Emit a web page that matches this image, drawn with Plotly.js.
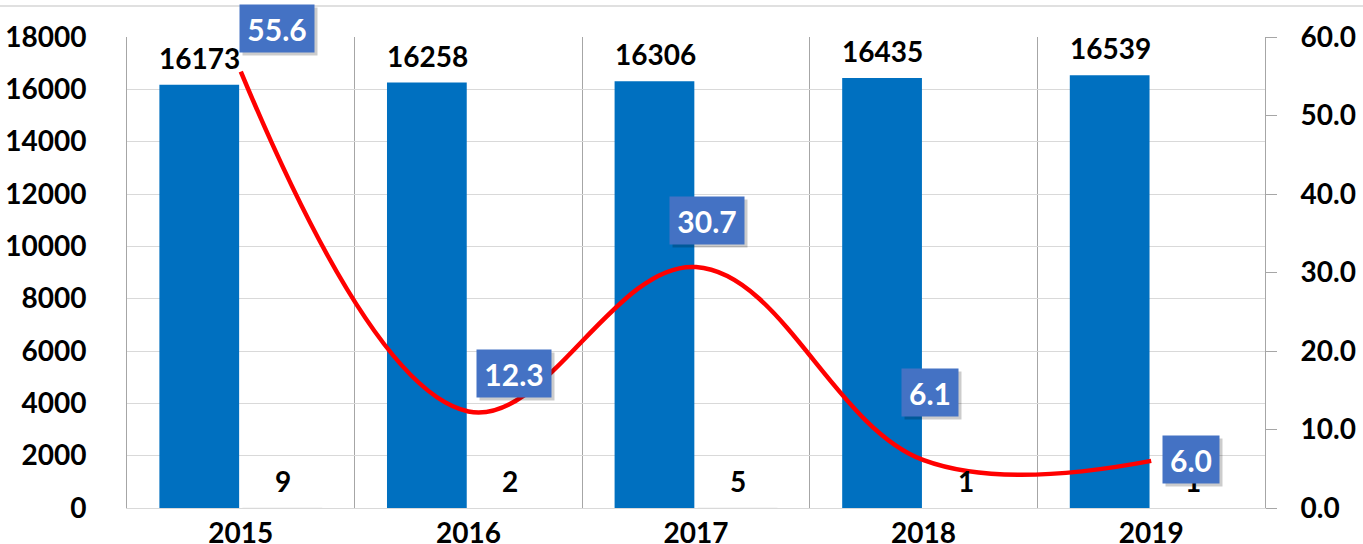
<!DOCTYPE html>
<html>
<head>
<meta charset="utf-8">
<script src="https://cdn.plot.ly/plotly-3.0.1.min.js"></script>
<style>html,body{margin:0;padding:0;background:#fff;}#chart{width:1363px;height:544px;}</style>
</head>
<body>
<div id="chart"></div>
<script>
var years = ['2015', '2016', '2017', '2018', '2019'];
var totals = [16173, 16258, 16306, 16435, 16539];
var cases = [9, 2, 5, 1, 1];
var rates = [55.6, 12.3, 30.7, 6.1, 6.0];
var leftTicks = [0, 2000, 4000, 6000, 8000, 10000, 12000, 14000, 16000, 18000];
var rightTicks = [0, 10, 20, 30, 40, 50, 60];

var FONT = 'Lato, "Open Sans", sans-serif';
var rateLabelShift = [[36, 43], [46, 38], [11, 47], [6, 68], [40, 1]];

var ctx = document.createElement('canvas').getContext('2d');
ctx.font = 'bold 30px Lato, "Open Sans", sans-serif';
function textWidth(t) { return Math.ceil(ctx.measureText(t).width) + 2; }

var traces = [
  {type: 'bar', x: years, y: totals, name: 'total', marker: {color: '#0070C0'}, yaxis: 'y', hoverinfo: 'skip'},
  {type: 'bar', x: years, y: cases, name: 'cases', marker: {color: '#d9d9d9'}, yaxis: 'y', hoverinfo: 'skip'},
  {type: 'scatter', mode: 'lines', x: years, y: rates, yaxis: 'y2', name: 'rate',
   line: {color: '#FF0000', width: 4.5, shape: 'spline', smoothing: 1.1}, hoverinfo: 'skip'}
];

// annotations on a category axis are placed by category index
var annotations = [];
years.forEach(function (yr, i) {
  annotations.push({x: i, y: totals[i], xref: 'x', yref: 'y', text: String(totals[i]), showarrow: false,
    xshift: -41, yshift: 8, yanchor: 'bottom', font: {family: FONT, size: 28, color: '#000', weight: 'bold'}});
  annotations.push({x: i, y: cases[i], xref: 'x', yref: 'y', text: String(cases[i]), showarrow: false,
    xshift: 42, yshift: 8, yanchor: 'bottom', font: {family: FONT, size: 28, color: '#000', weight: 'bold'}});
});
years.forEach(function (yr, i) {
  var s = rateLabelShift[i];
  var txt = rates[i].toFixed(1);
  var w = textWidth(txt);
  annotations.push({x: i, y: rates[i], xref: 'x', yref: 'y2', text: ' ', showarrow: false,
    xshift: s[0] + 3, yshift: s[1] - 3, borderpad: 6, width: w, height: 35,
    bgcolor: 'rgba(0,0,0,0.2)', font: {family: FONT, size: 30, color: '#fff'}});
  annotations.push({x: i, y: rates[i], xref: 'x', yref: 'y2', text: txt, showarrow: false,
    xshift: s[0], yshift: s[1], borderpad: 6, width: w, height: 35,
    bgcolor: '#4472C4', font: {family: FONT, size: 30, color: '#fff', weight: 'bold'}});
});

var layout = {
  width: 1363, height: 544,
  margin: {l: 127, r: 98, t: 37, b: 36},
  paper_bgcolor: '#fff', plot_bgcolor: '#fff',
  showlegend: false,
  barmode: 'group', bargap: 0.27, bargroupgap: 0.04,
  font: {family: FONT, color: '#000'},
  xaxis: {type: 'category', range: [-0.5, 4.5], tickson: 'boundaries', showgrid: true, gridcolor: '#a6a6a6', gridwidth: 1,
    showline: true, linecolor: '#d9d9d9', ticks: '', ticklabelstandoff: 0,
    tickfont: {family: FONT, size: 28, color: '#000', weight: 'bold'}},
  yaxis: {range: [0, 18000], tickvals: leftTicks, ticktext: leftTicks.map(String), showgrid: true, gridcolor: '#d9d9d9',
    zeroline: false, showline: true, linecolor: '#a6a6a6', ticks: '', ticklabelstandoff: 34,
    tickfont: {family: FONT, size: 28, color: '#000', weight: 'bold'}},
  yaxis2: {overlaying: 'y', side: 'right', range: [0, 60], tickvals: rightTicks, ticktext: rightTicks.map(function (v) { return v.toFixed(1); }),
    showgrid: false, zeroline: false, showline: true, linecolor: '#a6a6a6', ticks: 'outside', ticklen: 11, tickcolor: '#a6a6a6',
    ticklabelstandoff: 18, tickfont: {family: FONT, size: 28, color: '#000', weight: 'bold'}},
  shapes: [{type: 'line', xref: 'paper', yref: 'paper', x0: -0.2, x1: 1.2, y0: 1.066, y1: 1.066, line: {color: '#e0e0e0', width: 2}}],
  annotations: annotations
};

Plotly.newPlot('chart', traces, layout, {staticPlot: true, displayModeBar: false});
</script>
</body>
</html>
